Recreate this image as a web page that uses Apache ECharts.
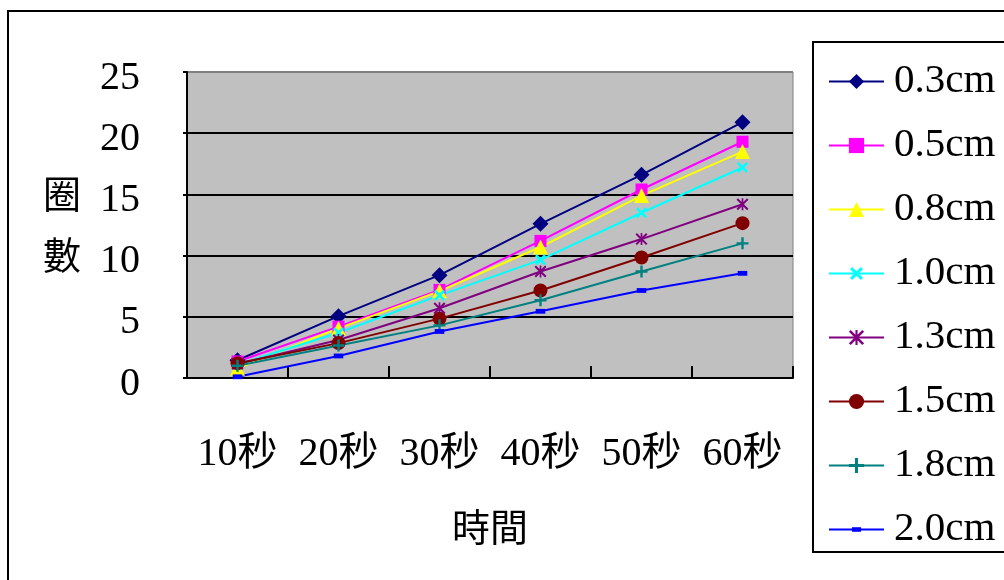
<!DOCTYPE html>
<html>
<head>
<meta charset="utf-8">
<script src="https://cdn.jsdelivr.net/npm/echarts@6/dist/echarts.min.js"></script>
<style>
  html, body { margin: 0; padding: 0; background: #fff; }
  #chart { width: 1004px; height: 580px; }
</style>
</head>
<body>
<div id="chart"></div>
<script>
// Time points on the horizontal axis
const categories = ['10秒', '20秒', '30秒', '40秒', '50秒', '60秒'];

// Turns counted for each wire diameter
const seriesNames = ['0.3cm', '0.5cm', '0.8cm', '1.0cm', '1.3cm', '1.5cm', '1.8cm', '2.0cm'];
const d03 = [1.45, 5.05, 8.4, 12.6, 16.6, 20.9];
const d05 = [1.35, 4.2, 7.2, 11.2, 15.4, 19.3];
const d08 = [0.8, 4.05, 7.1, 10.7, 14.9, 18.5];
const d10 = [1.1, 3.7, 6.75, 9.65, 13.5, 17.2];
const d13 = [1.15, 3.1, 5.7, 8.7, 11.35, 14.2];
const d15 = [1.2, 2.85, 4.85, 7.15, 9.85, 12.65];
const d18 = [1.0, 2.65, 4.3, 6.35, 8.7, 11.0];
const d20 = [0.1, 1.8, 3.8, 5.45, 7.15, 8.55];
const seriesValues = [d03, d05, d08, d10, d13, d15, d18, d20];

// Y axis tick settings
const yMin = 0, yMax = 25, yStep = 5;

const colors = ['#000080', '#FF00FF', '#FFFF00', '#00FFFF', '#800080', '#800000', '#008080', '#0000FF'];

// Marker outlines (10x10 boxes); the dash keeps a square box through its leading move-to points
const plusPath = 'path://M4,0H6V4H10V6H6V10H4V6H0V4H4Z';
const starPath = 'path://M0,1.2L1.2,0L10,8.8L8.8,10Z M8.8,0L10,1.2L1.2,10L0,8.8Z M4.3,0H5.7V10H4.3Z';
const dashPath = 'path://M0,0 M10,10 M2,3.5H8V6.5H2Z';

const markers = [
  { symbol: 'diamond', size: 16, rotate: 0 },
  { symbol: 'rect', size: 12, rotate: 0 },
  { symbol: 'triangle', size: 15, rotate: 0 },
  { symbol: plusPath, size: 13, rotate: 45 },
  { symbol: starPath, size: 12, rotate: 0 },
  { symbol: 'circle', size: 14, rotate: 0 },
  { symbol: plusPath, size: 12, rotate: 0 },
  { symbol: dashPath, size: 16, rotate: 0 }
];

const FONT = "'Liberation Serif', 'Noto Sans CJK TC', serif";

const chart = echarts.init(document.getElementById('chart'), null, { renderer: 'canvas' });

const series = seriesNames.map((name, i) => ({
  name: name,
  type: 'line',
  data: seriesValues[i],
  symbol: markers[i].symbol,
  symbolSize: markers[i].size,
  symbolRotate: markers[i].rotate,
  showAllSymbol: true,
  animation: false,
  lineStyle: { color: colors[i], width: 2 },
  itemStyle: { color: colors[i], borderWidth: 0 }
}));

chart.setOption({
  animation: false,
  textStyle: { fontFamily: FONT, color: '#000' },
  graphic: [
    {
      type: 'rect', silent: true, z: -1,
      shape: { x: 8, y: 11, width: 1020, height: 600 },
      style: { fill: 'none', stroke: '#000', lineWidth: 2 }
    },
    {
      type: 'rect', silent: true,
      shape: { x: 813, y: 42, width: 220, height: 510 },
      style: { fill: '#fff', stroke: '#000', lineWidth: 2 }
    }
  ],
  legend: {
    orient: 'vertical',
    left: 828,
    top: 61,
    itemWidth: 55,
    itemHeight: 19,
    itemGap: 23,
    padding: 0,
    z: 10,
    textStyle: { fontFamily: FONT, fontSize: 41, lineHeight: 40, color: '#000', padding: [0, 0, 0, 5] },
    data: seriesNames
  },
  grid: {
    left: 187, top: 72, width: 606, height: 306,
    show: true,
    backgroundColor: '#C0C0C0',
    borderColor: '#808080',
    borderWidth: 1,
    containLabel: false
  },
  xAxis: {
    type: 'category',
    data: categories,
    boundaryGap: true,
    name: '時間',
    nameLocation: 'middle',
    nameGap: 134,
    nameTextStyle: { fontFamily: FONT, fontSize: 38, color: '#000' },
    axisLine: { show: true, lineStyle: { color: '#000', width: 2 } },
    axisTick: { show: true, interval: 0, inside: true, length: 12, lineStyle: { color: '#000', width: 2 } },
    axisLabel: { interval: 0, fontFamily: FONT, fontSize: 40, color: '#000', margin: 56, lineHeight: 40 },
    splitLine: { show: false }
  },
  yAxis: {
    type: 'value',
    min: yMin, max: yMax, interval: yStep,
    name: '{s| }\n{t|圈}\n{t|數}',
    nameLocation: 'middle',
    nameRotate: 0,
    nameGap: 106,
    nameTextStyle: {
      fontFamily: FONT, fontSize: 38, lineHeight: 61, color: '#000',
      rich: {
        s: { fontSize: 8, lineHeight: 8 },
        t: { fontFamily: FONT, fontSize: 38, lineHeight: 61, color: '#000' }
      }
    },
    axisLine: { show: true, lineStyle: { color: '#000', width: 2 } },
    axisTick: { show: true, inside: false, length: 4, lineStyle: { color: '#000', width: 2 } },
    axisLabel: { fontFamily: FONT, fontSize: 40, color: '#000', margin: 47, verticalAlign: 'top', lineHeight: 12 },
    splitLine: { show: true, lineStyle: { color: ['#000', '#000', '#000', '#000', '#000', '#808080'], width: 2 } }
  },
  series: series
});
</script>
</body>
</html>
